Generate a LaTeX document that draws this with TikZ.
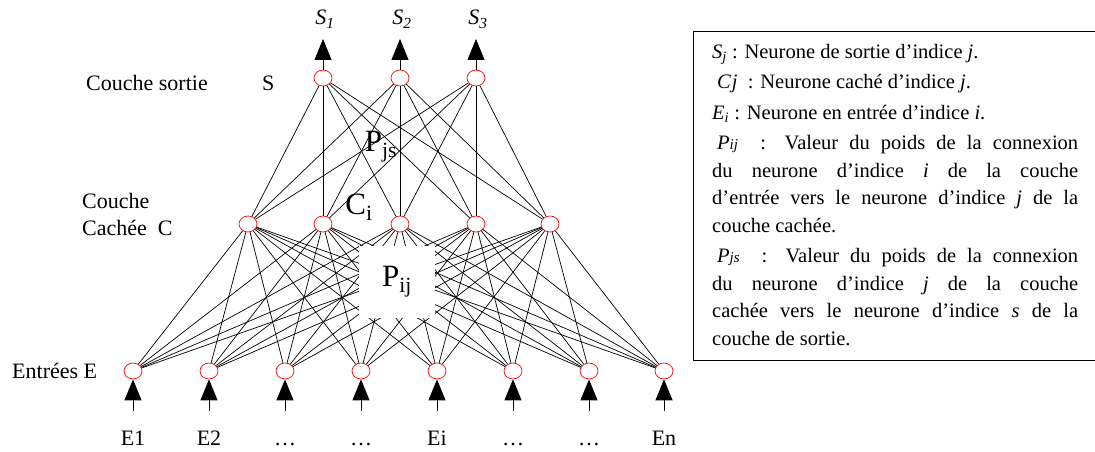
\documentclass[tikz,border=0pt]{standalone}
\usepackage{fontspec}
\setmainfont{Liberation Serif}
\usepackage{tikz}
\usetikzlibrary{arrows.meta,shapes.geometric}
\tikzstyle{pixelGrid} = [x = 1pt, y = -1pt, font=\fontsize{22}{26}\selectfont]
\tikzstyle{neuronStyle} = [ellipse, draw=red, line width=0.7pt, minimum width=18pt, minimum height=16pt, inner sep=0pt]
\tikzstyle{linkLine} = [color=black, line width=0.7pt]
\tikzstyle{flowArrow} = [color=black, line width=0.8pt, -{Triangle[length=21pt, width=17pt]}]
\tikzstyle{layerText} = [anchor=base west, inner sep=0pt]
\tikzstyle{weightText} = [font=\fontsize{31}{31}\selectfont, inner sep=0pt]
\tikzstyle{legendText} = [anchor=north west, inner sep=0pt, text width=366pt, align=justify, font=\fontsize{20.5}{27.5}\selectfont]
\newcommand{\legendGap}{\par\vspace{3pt}}

\begin{document}
\begin{tikzpicture}[pixelGrid]
  \useasboundingbox (0,0) rectangle (1095,452);

  % neurones
  \foreach \x/\t [count=\i] in {133/E1, 209/E2, 285/…, 361/…, 437/Ei, 513/…, 589/…, 664/En} {
    \node[neuronStyle] (in\i) at (\x,371) {};
    \coordinate (src\i) at (\x,411);
    \draw[flowArrow] (src\i) -- (in\i);
    \node[anchor=base, inner sep=0pt] (inLabel\i) at (\x,445) {\t};
  }
  \foreach \x [count=\j] in {248,323,400,476,550}
    \node[neuronStyle] (hid\j) at (\x,224) {};
  \foreach \x [count=\s] in {323,400,476} {
    \node[neuronStyle] (out\s) at (\x,78) {};
    \coordinate (dst\s) at (\x,39);
    \draw[flowArrow] (out\s) -- (dst\s);
    \node[anchor=base, inner sep=0pt] (outLabel\s) at (\x+2,25) {\textit{S\textsubscript{\s}}};
  }

  % connexions
  \foreach \i in {1,...,8}
    \foreach \j in {1,...,5}
      \draw[linkLine] (in\i) -- (hid\j);
  \foreach \j in {1,...,5}
    \foreach \s in {1,...,3}
      \draw[linkLine] (hid\j) -- (out\s);

  % poids
  \node[weightText, fill=white, minimum width=76pt, minimum height=72pt] (pij) at (397,282) {P\textsubscript{ij}};
  \node[weightText] (pjs) at (381,147) {P\textsubscript{js}};
  \node[weightText] (ci) at (359,207) {C\textsubscript{i}};

  % couches
  \node[layerText] (sortie) at (86,91) {Couche sortie};
  \node[layerText] (sortieS) at (262,91) {S};
  \node[layerText] (cachee) at (82,208) {Couche};
  \node[layerText] (cacheeC) at (82,235) {Cachée\ \ C};
  \node[layerText] (entrees) at (12,378) {Entrées E};

  % legende
  \draw[line width=0.8pt] (1095,31) -- (693,31) -- (693,360) -- (1095,360);
  \node[legendText] (legend) at (712,44) {%
    \textit{S}\textsubscript{\textit{j}} : Neurone de sortie d’indice \textit{j}.\legendGap
    \hspace*{5pt}\textit{C\kern1pt j}\ \ : Neurone caché d’indice \textit{j}.\legendGap
    \textit{E}\textsubscript{\textit{i}} : Neurone en entrée d’indice \textit{i}.\legendGap
    \hspace*{5pt}\textit{P}{\fontsize{15}{15}\selectfont\textit{ij}}\ \ : Valeur du poids de la connexion\linebreak
    du neurone d’indice \textit{i} de la couche\linebreak
    d’entrée vers le neurone d’indice \textit{j} de la\linebreak
    couche cachée.\legendGap
    \hspace*{5pt}\textit{P}{\fontsize{15}{15}\selectfont\textit{js}}\ \ : Valeur du poids de la connexion\linebreak
    du neurone d’indice \textit{j} de la couche\linebreak
    cachée vers le neurone d’indice \textit{s} de la\linebreak
    couche de sortie.};
\end{tikzpicture}
\end{document}
